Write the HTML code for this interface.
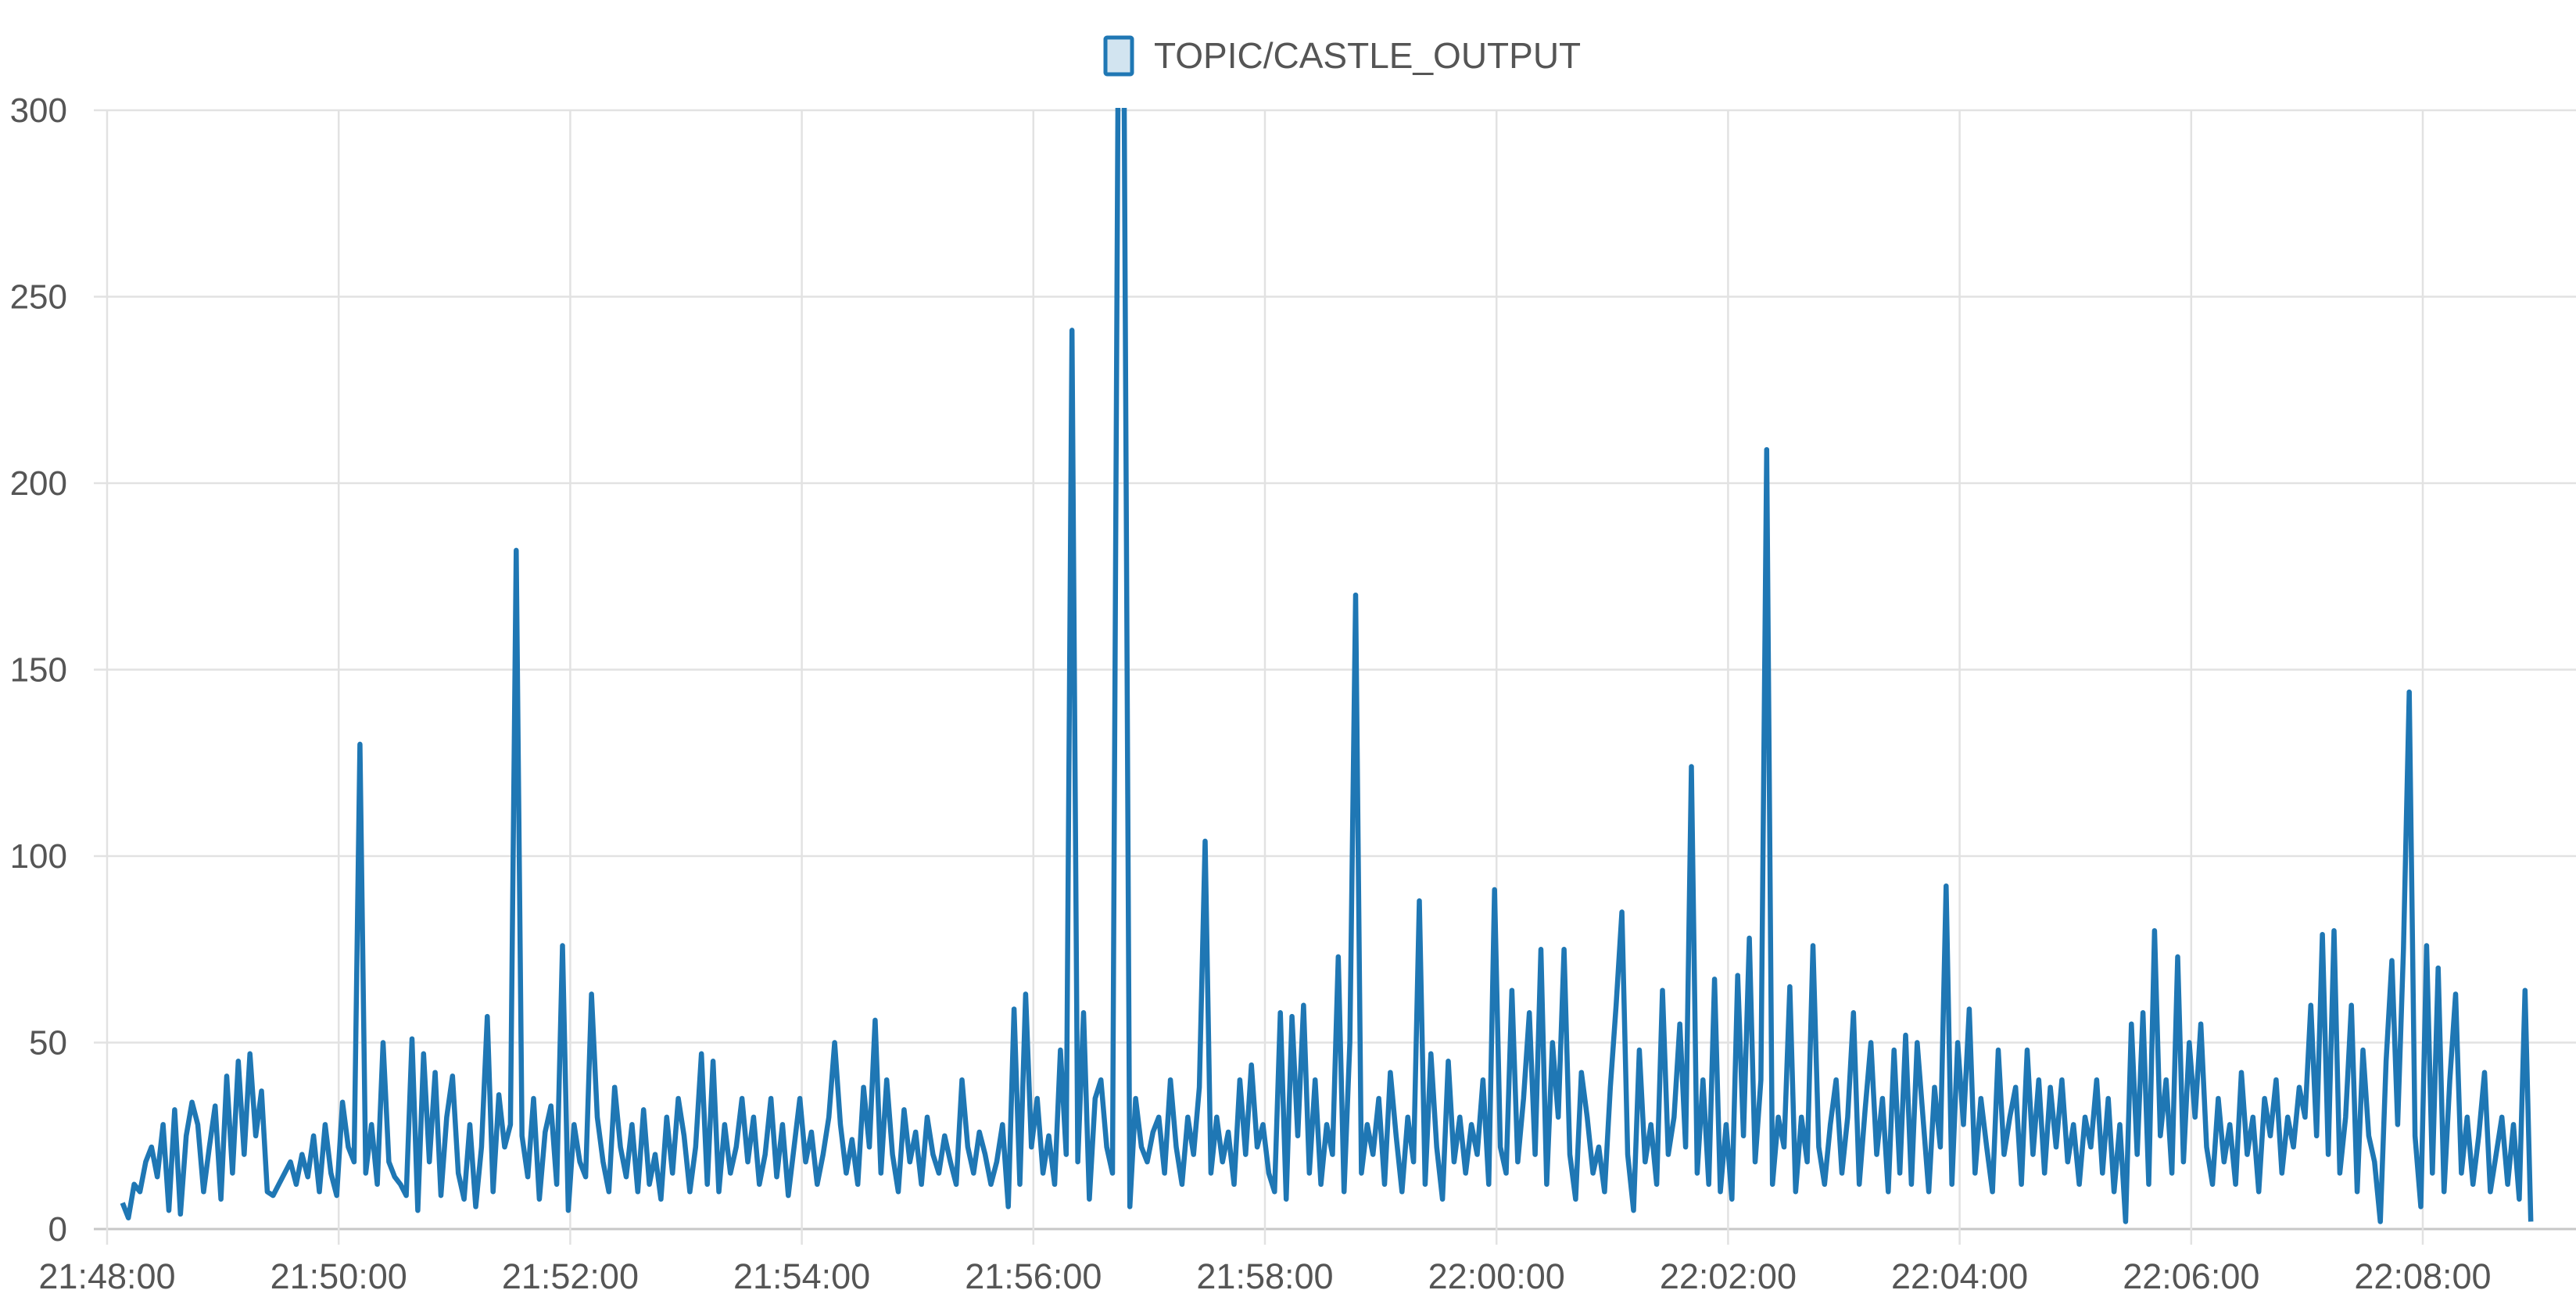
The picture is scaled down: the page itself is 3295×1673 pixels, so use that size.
<!DOCTYPE html>
<html><head><meta charset="utf-8"><style>
html,body{margin:0;padding:0;background:#fff;}
svg{display:block;}
text{font-family:"Liberation Sans",sans-serif;fill:#555;}
</style></head>
<body>
<svg id="chart" width="3295" height="1673" viewBox="0 0 3295 1673" xmlns="http://www.w3.org/2000/svg">
<g id="grid"></g>
<g id="yaxis"></g>
<g id="xaxis"></g>
<defs><clipPath id="plotclip"><rect x="130" y="138" width="3165" height="1440"/></clipPath></defs>
<g id="series" clip-path="url(#plotclip)"></g>
<g>
<rect x="1414" y="48" width="34" height="47" fill="rgba(31,119,180,0.2)" stroke="#1f77b4" stroke-width="5" rx="2"/>
<text x="1476" y="87" font-size="46">TOPIC/CASTLE_OUTPUT</text>
</g>
</svg>
<script>
const yTicks=[0,50,100,150,200,250,300];
const xTickLabels=["21:48:00","21:50:00","21:52:00","21:54:00","21:56:00","21:58:00","22:00:00","22:02:00","22:04:00","22:06:00","22:08:00"];
const startSec=8, stepSec=3;
const values=[7,3,12,10,18,22,14,28,5,32,4,25,34,28,10,22,33,8,41,15,
45,20,47,25,37,10,9,12,15,18,12,20,14,25,10,28,15,9,34,22,
18,130,15,28,12,50,18,14,12,9,51,5,47,18,42,9,30,41,15,8,
28,6,22,57,10,36,22,28,182,25,14,35,8,26,33,12,76,5,28,18,
14,63,30,18,10,38,22,14,28,10,32,12,20,8,30,15,35,25,10,22,
47,12,45,10,28,15,22,35,18,30,12,20,35,14,28,9,22,35,18,26,
12,20,30,50,28,15,24,12,38,22,56,15,40,20,10,32,18,26,12,30,
20,15,25,18,12,40,22,15,26,20,12,18,28,6,59,12,63,22,35,15,
25,12,48,20,241,18,58,8,35,40,22,15,320,310,6,35,22,18,26,30,
15,40,22,12,30,20,38,104,15,30,18,26,12,40,20,44,22,28,15,10,
58,8,57,25,60,15,40,12,28,20,73,10,50,170,15,28,20,35,12,42,
25,10,30,18,88,12,47,22,8,45,18,30,15,28,20,40,12,91,22,15,
64,18,35,58,20,75,12,50,30,75,20,8,42,30,15,22,10,38,60,85,
20,5,48,18,28,12,64,20,30,55,22,124,15,40,12,67,10,28,8,68,
25,78,18,40,209,12,30,22,65,10,30,18,76,22,12,28,40,15,30,58,
12,32,50,20,35,10,48,15,52,12,50,30,10,38,22,92,12,50,28,59,
15,35,22,10,48,20,30,38,12,48,20,40,15,38,22,40,18,28,12,30,
22,40,15,35,10,28,2,55,20,58,12,80,25,40,15,73,18,50,30,55,
22,12,35,18,28,12,42,20,30,10,35,25,40,15,30,22,38,30,60,25,
79,20,80,15,30,60,10,48,25,18,2,45,72,28,75,144,25,6,76,15,
70,10,40,63,15,30,12,25,42,10,20,30,12,28,8,64,2];

const NS="http://www.w3.org/2000/svg";
const X0=137, PX_PER_SEC=296.2/120, Y0=1572, PX_PER_UNIT=(1572-141)/300;
const xs=s=>X0+s*PX_PER_SEC;
const ys=v=>Y0-v*PX_PER_UNIT;
function mk(tag,attrs,parent){const e=document.createElementNS(NS,tag);for(const k in attrs)e.setAttribute(k,attrs[k]);parent.appendChild(e);return e;}
const grid=document.getElementById('grid'),ya=document.getElementById('yaxis'),xa=document.getElementById('xaxis'),se=document.getElementById('series');
yTicks.forEach(v=>{
  const l=mk('line',{x1:120,x2:3295,y1:ys(v),y2:ys(v),stroke:v===0?'#c8c8c8':'#e2e2e2','stroke-width':v===0?3:2.5},grid);
  
  
  const t=mk('text',{x:86,y:ys(v)+15,'font-size':44,'text-anchor':'end'},ya);
  
  
  t.textContent=v;
});
xTickLabels.forEach((lab,i)=>{
  const x=xs(i*120);
  const l=mk('line',{x1:x,x2:x,y1:141,y2:1592,stroke:'#e2e2e2','stroke-width':2.5},grid);
  
  
  const t=mk('text',{x:x,y:1648,'font-size':45,'text-anchor':'middle'},xa);
  
  
  t.textContent=lab;
});
const pts=values.map((v,i)=>xs(startSec+i*stepSec).toFixed(1)+','+ys(v).toFixed(1)).join(' ');
const pl=mk('polyline',{points:pts,fill:'none',stroke:'#1f77b4','stroke-width':6.5,'stroke-linejoin':'round'},se);


</script>
</body></html>
